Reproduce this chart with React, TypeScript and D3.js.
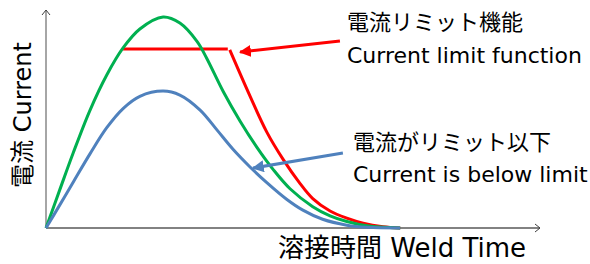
import React from 'react';
import * as d3 from 'd3';

// weld current profile (time 0..100, current 0..100)
const greenTime = [0, 2.8, 5.5, 8.9, 12.3, 15.6, 19.0, 23.7, 27.1, 30.6, 32.5, 35.9, 39.3, 42.7, 46.0, 49.4, 54.0, 57.5, 60.9, 65.0, 71.7];
const greenCurrent = [0, 17.6, 34.4, 54.0, 70.2, 82.6, 91.3, 96.8, 94.0, 85.5, 78.0, 62.5, 49.0, 37.0, 26.8, 18.0, 9.8, 5.6, 3.0, 1.0, 0];

const blueTime = [0, 2.8, 5.5, 8.9, 12.3, 15.6, 19.0, 23.7, 27.1, 31.2, 34.6, 37.9, 41.3, 44.7, 48.7, 52.0, 56.0, 60.9, 65.0, 71.7];
const blueCurrent = [0, 10.6, 21.0, 34.0, 46.0, 54.8, 60.4, 62.8, 61.0, 54.1, 45.0, 36.0, 28.0, 20.8, 13.2, 8.2, 4.0, 1.3, 0.3, 0];

// limited current: flat part, then the drop
const limitTime = [15.6, 36.8];
const limitCurrent = [82.1, 82.1];
const dropTime = [37.2, 41.3, 44.7, 48.0, 51.4, 54.0, 57.5, 60.9, 64.2, 68.2, 71.7];
const dropCurrent = [81.7, 60.5, 44.0, 31.5, 20.5, 13.5, 7.8, 4.5, 2.2, 0.6, 0];

// callout arrows [fromTime, fromCurrent, toTime, toCurrent]
const redArrow = [59.5, 85.8, 39.3, 80.7];
const blueArrow = [60.1, 34.4, 41.9, 27.5];

const labelLimit = ['電流リミット機能', 'Current limit function'];
const labelBelow = ['電流がリミット以下', 'Current is below limit'];
const xTitle = '溶接時間 Weld Time';
const yTitle = '電流 Current';

const W = 590, H = 264;
const FONT = "'DejaVu Sans', 'Noto Sans CJK JP', sans-serif";

const zip = (a: number[], b: number[]) => a.map((v, i) => [v, b[i]] as [number, number]);

export default function App() {
  const x = d3.scaleLinear().domain([0, 100]).range([46, 540]);
  const y = d3.scaleLinear().domain([0, 100]).range([228, 10]);

  const line = d3.line<[number, number]>()
    .x(d => x(d[0]))
    .y(d => y(d[1]))
    .curve(d3.curveCatmullRom.alpha(0.5));
  const straight = d3.line<[number, number]>().x(d => x(d[0])).y(d => y(d[1]));

  const [x0, x1] = x.range();
  const [y0, y1] = y.range();

  return (
    <svg width={W} height={H} style={{ position: 'absolute', left: 0, top: 0, background: '#fff' }}
      fontFamily={FONT}>
      <defs>
        <marker id="headRed" viewBox="0 0 10 10" refX="9" refY="5" markerWidth="4" markerHeight="4" orient="auto">
          <path d="M0,0L10,5L0,10z" fill="#ff0000" />
        </marker>
        <marker id="headBlue" viewBox="0 0 10 10" refX="9" refY="5" markerWidth="4" markerHeight="4" orient="auto">
          <path d="M0,0L10,5L0,10z" fill="#4f81bd" />
        </marker>
      </defs>

      {/* axes */}
      <line x1={x0} y1={y0} x2={x0} y2={y1} stroke="#a6a6a6" strokeWidth={2} />
      <path d={`M${x0 - 4},${y1 + 5}L${x0},${y1}L${x0 + 4},${y1 + 5}`} fill="none" stroke="#404040" strokeWidth={1} />
      <line x1={x0} y1={y0} x2={x1} y2={y0} stroke="#595959" strokeWidth={1.5} />
      <path d={`M${x1 - 5},${y0 - 4}L${x1},${y0}L${x1 - 5},${y0 + 4}`} fill="none" stroke="#404040" strokeWidth={1} />

      {/* curves */}
      <path d={straight(zip(limitTime, limitCurrent)) || ''} fill="none" stroke="#ff0000" strokeWidth={3} />
      <path d={line(zip(dropTime, dropCurrent)) || ''} fill="none" stroke="#ff0000" strokeWidth={3} />
      <path d={line(zip(greenTime, greenCurrent)) || ''} fill="none" stroke="#00b050" strokeWidth={3} />
      <path d={line(zip(blueTime, blueCurrent)) || ''} fill="none" stroke="#4f81bd" strokeWidth={3} />

      {/* callouts */}
      <path d={straight([[redArrow[0], redArrow[1]], [redArrow[2], redArrow[3]]]) || ''}
        stroke="#ff0000" strokeWidth={3} markerEnd="url(#headRed)" />
      <path d={straight([[blueArrow[0], blueArrow[1]], [blueArrow[2], blueArrow[3]]]) || ''}
        stroke="#4f81bd" strokeWidth={3} markerEnd="url(#headBlue)" />

      <g fontSize={22} fill="#000">
        <text x={347} y={30}>{labelLimit[0]}</text>
        <text x={347} y={63}>{labelLimit[1]}</text>
        <text x={353} y={150}>{labelBelow[0]}</text>
        <text x={353} y={182}>{labelBelow[1]}</text>
      </g>

      <text x={278} y={257} fontSize={26}>{xTitle}</text>
      <text transform={`translate(31,115) rotate(-90)`} textAnchor="middle" fontSize={24}>{yTitle}</text>
    </svg>
  );
}
